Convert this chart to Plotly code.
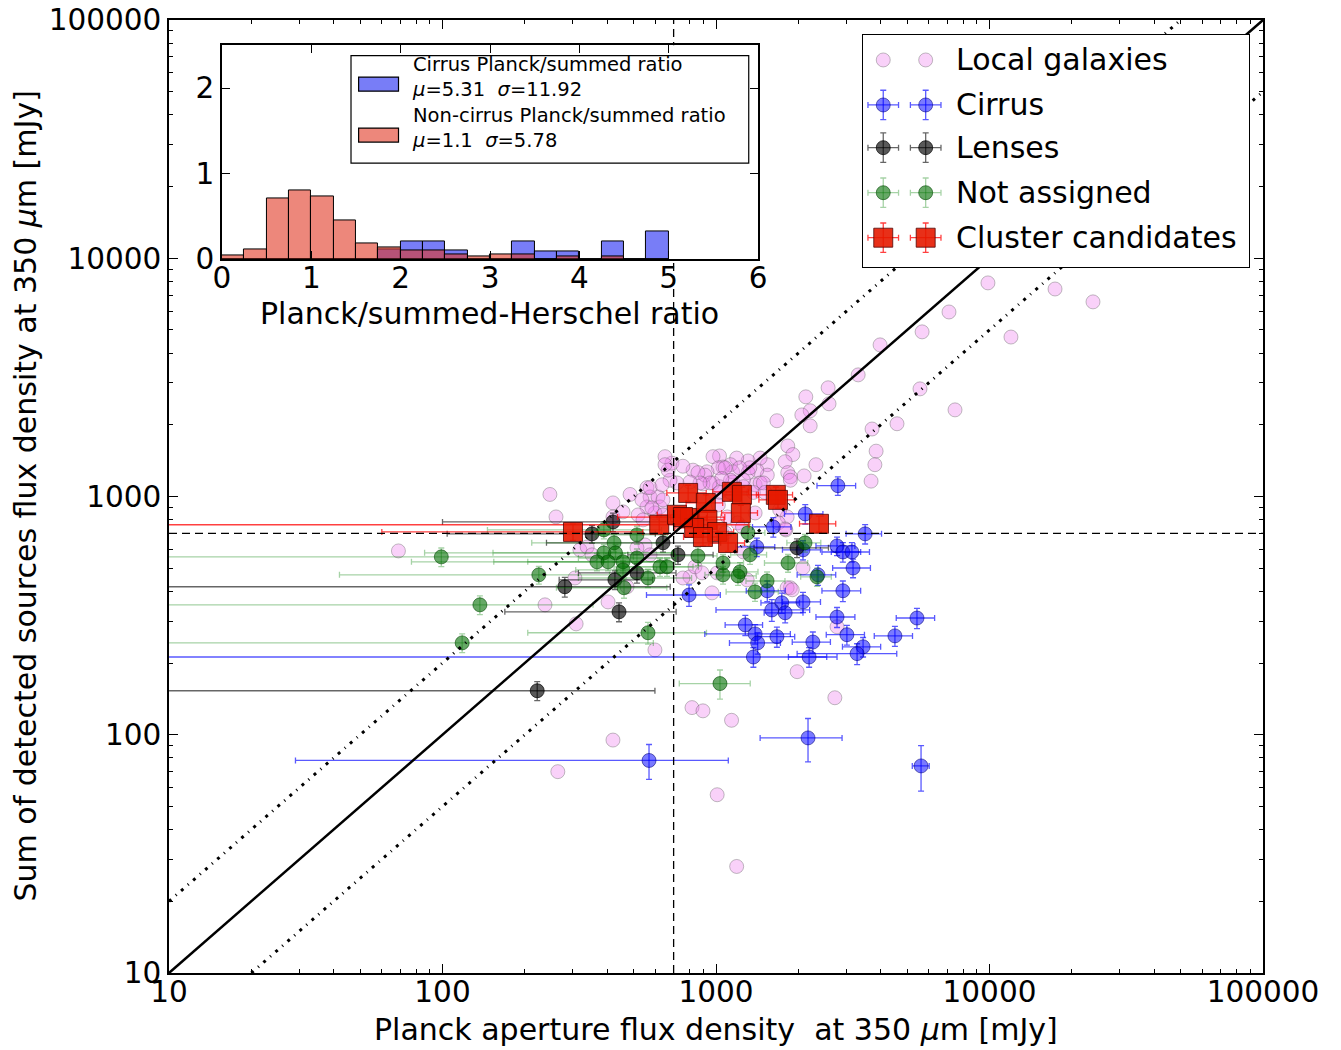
import plotly.graph_objects as go

# ---------------- data ----------------
local_x = [9870, 17360, 23900, 7110, 5670, 11980, 3980, 3310, 5570, 2570,
           2130, 2590, 2210, 2060, 2210, 7480, 4590, 3720, 3850, 3810,
           2320, 2100, 3690, 1670, 1830, 1910, 1790, 1830, 1870, 1540,
           1540, 1410, 1450, 1310, 1190, 1130, 1030, 975, 1060, 1020,
           927, 1150, 1310, 1390, 1450, 975, 896, 1030, 1150, 911,
           1330, 1220, 824, 859, 1080, 1870, 1490, 1260, 1130, 1050,
           951, 874, 803, 720, 679, 668, 690, 651, 559, 574,
           614, 624, 598, 559, 1030, 1130, 1370, 1510, 1260, 1020,
           1100, 1080, 1200, 1390, 1820, 1710, 1690, 1800, 1250, 2080,
           1260, 1010, 803, 757, 967, 1300, 1870, 2770, 1980, 2720,
           598, 420, 485, 536, 574, 635, 651, 640, 583, 519,
           420, 457, 541, 640, 318, 338, 352, 305, 838, 889,
           550, 574, 514, 247, 260, 69, 237, 403, 308, 473,
           420, 264, 1010, 1190, 817, 896, 1140, 1820, 1900, 1790, 757]
local_y = [7880, 7430, 6560, 5950, 4910, 4670, 4330, 3240, 2830, 2860,
           2620, 2450, 2290, 2200, 1980, 2310, 2020, 1920, 1550, 1360,
           1360, 1220, 1160, 2080, 1630, 1500, 1400, 1260, 1210, 1360,
           1230, 1290, 1450, 1410, 1450, 1360, 1480, 1470, 1330, 1320,
           1270, 1270, 1260, 1120, 1140, 1140, 1130, 1100, 1150, 1230,
           1320, 1320, 1290, 1260, 1320, 1170, 1140, 1170, 1170, 1190,
           1140, 1140, 1150, 1140, 1170, 1290, 1380, 1470, 1090, 996,
           996, 904, 853, 904, 1040, 1040, 1040, 1040, 1100, 922,
           821, 704, 775, 853, 821, 879, 775, 724, 745, 502,
           585, 478, 460, 455, 394, 447, 414, 284, 184, 143,
           227, 940, 1020, 968, 1090, 1120, 1360, 968, 896, 837,
           821, 862, 798, 837, 597, 614, 569, 455, 507, 478,
           626, 569, 609, 1020, 821, 591, 351, 361, 292, 418,
           95, 70, 56, 28, 130, 126, 115, 414, 406, 731, 1340]

cirrus_x = [2790, 2120, 1620, 3510, 1410, 2770, 2910, 3140, 3170, 2360,
            1540, 2910, 797, 2080, 1740, 1600, 1790, 2770, 5430, 1280,
            1390, 1670, 3010, 4510, 1420, 2260, 3450, 3280, 1370, 2190,
            2170, 5620, 569, 2080]
cirrus_y = [1110, 845, 745, 697, 614, 620, 585, 585, 501, 469,
            402, 402, 386, 361, 358, 334, 325, 312, 309, 289,
            265, 258, 263, 260, 243, 245, 234, 219, 212, 212,
            97, 74, 78, 597]
cirrus_xerr = [450, 340, 260, 520, 230, 450, 470, 500, 500, 380,
               250, 470, 240, 330, 280, 600, 290, 450, 870, 200,
               480, 270, 480, 720, 300, 360, 550, 1300, 1400, 350,
               720, 400, 540, 330]
cirrus_yerr = [100, 80, 70, 65, 55, 55, 55, 55, 45, 45,
               40, 40, 40, 35, 35, 35, 30, 30, 30, 28,
               25, 25, 25, 25, 25, 25, 22, 22, 20, 20,
               20, 16, 13, 55]

lens_x = [420, 352, 640, 427, 280, 442, 222, 514, 726, 1977]
lens_y = [782, 697, 639, 447, 418, 328, 153, 478, 569, 609]
lens_xerr = [320, 248, 400, 160, 400, 273, 376, 200, 250, 600]
lens_yerr = [70, 60, 55, 40, 40, 30, 14, 45, 50, 55]

na_x = [99, 137, 118, 225, 389, 424, 389, 429, 367, 403,
        457, 514, 514, 564, 461, 624, 662, 564, 457, 859,
        1061, 1224, 1331, 1309, 2116, 1061, 1834, 1537, 2340, 1389,
        1034, 1203]
na_y = [558, 351, 243, 469, 724, 639, 580, 580, 532, 532,
        532, 690, 552, 455, 414, 507, 507, 268, 492, 563,
        469, 483, 569, 704, 639, 526, 526, 442, 460, 398,
        164, 464]
na_xerr = [400, 218, 472, 183, 243, 212, 303, 276, 290, 249,
           252, 150, 200, 250, 200, 200, 200, 359, 150, 150,
           150, 200, 200, 200, 300, 200, 330, 250, 300, 300,
           300, 200]
na_yerr = [50, 32, 22, 40, 60, 55, 50, 50, 45, 45,
           45, 60, 50, 40, 40, 45, 45, 28, 45, 50,
           40, 45, 50, 60, 55, 45, 45, 40, 40, 35,
           23, 40]

cc_x = [300, 620, 791, 720, 803, 918, 930, 832, 1010, 1107,
        1143, 1244, 1233, 1655, 1685, 2380, 896, 757]
cc_y = [710, 761, 1035, 838, 813, 940, 798, 738, 710, 638,
        1046, 1016, 853, 1016, 968, 768, 676, 820]
cc_xerr = [240, 700, 130, 110, 120, 140, 140, 125, 150, 165,
           170, 185, 185, 250, 250, 360, 135, 320]
cc_yerr = [55, 60, 80, 65, 65, 75, 65, 60, 55, 50,
           80, 80, 65, 80, 75, 60, 55, 65]

flux_cut = 700                      # dashed selection lines [mJy]
ratio_lines = [1, 2, 0.5]           # y = k * x reference lines
axis_min, axis_max = 10, 100000
main_tickvals = [10, 100, 1000, 10000, 100000]
main_ticktext = ["10", "100", "1000", "10000", "100000"]

ratio_bin_centers = [0.125, 0.375, 0.625, 0.875, 1.125, 1.375, 1.625, 1.875,
                     2.125, 2.375, 2.625, 2.875, 3.125, 3.375, 3.625, 3.875,
                     4.125, 4.375, 4.625, 4.875]
cirrus_hist = [0, 0, 0, 0, 0, 0, 0, 0.11, 0.21, 0.21, 0.10, 0, 0, 0.21,
               0.09, 0.09, 0, 0.21, 0, 0.32]
noncirrus_hist = [0.04, 0.11, 0.71, 0.80, 0.73, 0.45, 0.18, 0.13, 0.10, 0.10,
                  0.05, 0.03, 0.05, 0.05, 0, 0.025, 0, 0.025, 0, 0]
inset_xticks = [0, 1, 2, 3, 4, 5, 6]
inset_yticks = [0, 1, 2]
inset_xrange = [0, 6]
inset_yrange = [0, 2.5]

# ---------------- styles ----------------
FONT = "DejaVu Sans"
FS_TICK = 29.5
FS_TITLE = 30
PINK = "rgba(238,130,238,0.37)"
PINK_EDGE = "rgba(90,90,90,0.38)"
BLUE = "rgba(0,0,255,0.52)"
BLUE_EDGE = "rgba(0,0,120,0.55)"
BLUE_ERR = "rgba(0,0,255,0.65)"
BLACK = "rgba(0,0,0,0.65)"
BLACK_EDGE = "rgba(0,0,0,0.7)"
BLACK_ERR = "rgba(0,0,0,0.6)"
GREEN = "rgba(0,110,0,0.6)"
GREEN_EDGE = "rgba(0,70,0,0.6)"
GREEN_ERR = "rgba(0,128,0,0.35)"
RED = "rgba(230,25,0,0.9)"
RED_EDGE = "rgba(70,0,0,0.75)"
RED_ERR = "rgba(255,0,0,0.75)"
HIST_BLUE = "rgba(0,10,240,0.53)"
HIST_RED = "rgba(225,55,35,0.6)"
DOTDASH = "3px,6px,1px,6px"

def errbar(values, color, kind="data"):
    d = dict(type=kind, symmetric=True, color=color, thickness=1.3, width=3, visible=True)
    if kind == "data":
        d["array"] = values
    else:
        d["value"] = values
    return d

groups = [
    ("Local galaxies", local_x, local_y, None, None, PINK, PINK_EDGE, None, "circle", 14),
    ("Cirrus", cirrus_x, cirrus_y, cirrus_xerr, cirrus_yerr, BLUE, BLUE_EDGE, BLUE_ERR, "circle", 14),
    ("Lenses", lens_x, lens_y, lens_xerr, lens_yerr, BLACK, BLACK_EDGE, BLACK_ERR, "circle", 14),
    ("Not assigned", na_x, na_y, na_xerr, na_yerr, GREEN, GREEN_EDGE, GREEN_ERR, "circle", 14),
    ("Cluster candidates", cc_x, cc_y, cc_xerr, cc_yerr, RED, RED_EDGE, RED_ERR, "square", 19),
]

fig = go.Figure()

# ---------------- main scatter ----------------
for name, xs, ys, xe, ye, col, edge, ecol, sym, size in groups:
    kw = {}
    if xe is not None:
        kw["error_x"] = errbar(xe, ecol)
        kw["error_y"] = errbar(ye, ecol)
    fig.add_trace(go.Scatter(
        x=xs, y=ys, mode="markers", name=name,
        marker=dict(size=size, color=col, symbol=sym, line=dict(color=edge, width=1)),
        hoverinfo="skip", showlegend=False, **kw))

# reference lines y = k x
for k in ratio_lines:
    x0 = max(axis_min, axis_min / k)
    x1 = min(axis_max, axis_max / k)
    fig.add_trace(go.Scatter(
        x=[x0, x1], y=[k * x0, k * x1], mode="lines",
        line=dict(color="black", width=2.5 if k == 1 else 3,
                  dash="solid" if k == 1 else DOTDASH),
        hoverinfo="skip", showlegend=False))

# dashed flux-cut lines
fig.add_trace(go.Scatter(x=[flux_cut, flux_cut], y=[axis_min, axis_max], mode="lines",
                         line=dict(color="black", width=1.3, dash="8px,5px"),
                         hoverinfo="skip", showlegend=False))
fig.add_trace(go.Scatter(x=[axis_min, axis_max], y=[flux_cut, flux_cut], mode="lines",
                         line=dict(color="black", width=1.3, dash="8px,5px"),
                         hoverinfo="skip", showlegend=False))

# ---------------- inset histogram ----------------
# opaque white background of the inset (a bar spanning the whole inset range)
fig.add_trace(go.Bar(x=[sum(inset_xrange) / 2], y=[inset_yrange[1]],
                     width=inset_xrange[1] - inset_xrange[0],
                     marker=dict(color="white", line=dict(width=0)),
                     xaxis="x2", yaxis="y2", hoverinfo="skip", showlegend=False))
fig.add_trace(go.Bar(x=ratio_bin_centers, y=cirrus_hist, width=0.25,
                     marker=dict(color=HIST_BLUE, line=dict(color="black", width=1)),
                     xaxis="x2", yaxis="y2", hoverinfo="skip", showlegend=False))
fig.add_trace(go.Bar(x=ratio_bin_centers, y=noncirrus_hist, width=0.25,
                     marker=dict(color=HIST_RED, line=dict(color="black", width=1)),
                     xaxis="x2", yaxis="y2", hoverinfo="skip", showlegend=False))

# ---------------- manual legend (own axes so it hides lines beneath) ----------------
fig.add_trace(go.Scatter(x=[0, 1, 1, 0, 0], y=[0, 0, 1, 1, 0], mode="lines",
                         fill="toself", fillcolor="white", line=dict(width=0, color="white"),
                         xaxis="x3", yaxis="y3", hoverinfo="skip", showlegend=False))
leg_marker_x = [0.0518, 0.1617]
leg_rows = [0.8924, 0.6987, 0.5149, 0.3211, 0.1274]
leg_text_x = 0.236
annotations = []
for (name, xs, ys, xe, ye, col, edge, ecol, sym, size), ry in zip(groups, leg_rows):
    kw = {}
    if xe is not None:
        kw["error_x"] = errbar(0.0396, ecol, "constant")
        kw["error_y"] = errbar(0.0633, ecol, "constant")
    fig.add_trace(go.Scatter(
        x=leg_marker_x, y=[ry, ry], mode="markers",
        marker=dict(size=size, color=col, symbol=sym, line=dict(color=edge, width=1)),
        xaxis="x3", yaxis="y3", hoverinfo="skip", showlegend=False, **kw))
    annotations.append(dict(x=leg_text_x, y=ry, xref="x3", yref="y3", text=name,
                            showarrow=False, xanchor="left", yanchor="middle",
                            font=dict(size=FS_TITLE, color="black")))

# inset legend
shapes = [
    dict(type="rect", xref="x2 domain", yref="y2 domain", x0=0.2407, x1=0.9825,
         y0=0.4492, y1=0.9527, line=dict(color="black", width=1.2), fillcolor="white", layer="above"),
    dict(type="rect", xref="x2 domain", yref="y2 domain", x0=0.2549, x1=0.3293,
         y0=0.7861, y1=0.8517, line=dict(color="black", width=1.2),
         fillcolor=HIST_BLUE, layer="above"),
    dict(type="rect", xref="x2 domain", yref="y2 domain", x0=0.2549, x1=0.3293,
         y0=0.5475, y1=0.6130, line=dict(color="black", width=1.2),
         fillcolor=HIST_RED, layer="above"),
]
inset_leg_entries = [
    ("Cirrus Planck/summed ratio<br><i>μ</i>=5.31 \u00a0<i>σ</i>=11.92", 0.8507),
    ("Non-cirrus Planck/summed ratio<br><i>μ</i>=1.1 \u00a0<i>σ</i>=5.78", 0.6144),
]
for txt, yy in inset_leg_entries:
    annotations.append(dict(x=0.352, y=yy, xref="x2 domain", yref="y2 domain", text=txt,
                            showarrow=False, xanchor="left", yanchor="middle", align="left",
                            borderpad=0, font=dict(size=19.5, color="black")))

# axis titles
annotations += [
    dict(x=0.5, y=-0.0598, xref="paper", yref="paper",
         text="Planck aperture flux density \u00a0at 350 <i>μ</i>m [mJy]",
         showarrow=False, xanchor="center", yanchor="middle", font=dict(size=FS_TITLE, color="black")),
    dict(x=-0.1316, y=0.5, xref="paper", yref="paper", textangle=-90,
         text="Sum of detected sources flux density at 350 <i>μ</i>m [mJy]",
         showarrow=False, xanchor="center", yanchor="middle", font=dict(size=FS_TITLE, color="black")),
    dict(x=0.2934, y=0.6925, xref="paper", yref="paper",
         text="Planck/summed-Herschel ratio",
         showarrow=False, xanchor="center", yanchor="middle", font=dict(size=FS_TITLE, color="black")),
]

def log_axis(standoff):
    return dict(type="log", range=[1, 5], tickmode="array", tickvals=main_tickvals,
                ticktext=main_ticktext, ticklabelstandoff=standoff, ticklabeloverflow="allow",
                ticks="inside", ticklen=9, tickwidth=1.2, tickcolor="black",
                minor=dict(ticks="inside", ticklen=4.5, tickwidth=1, tickcolor="black",
                           dtick="D1", showgrid=False),
                showline=True, linecolor="black", linewidth=1.5, mirror="allticks",
                showgrid=False, zeroline=False, tickfont=dict(size=FS_TICK, color="black"))

def lin_axis(rng, vals, standoff):
    return dict(range=rng, tickmode="array", tickvals=vals, ticklabelstandoff=standoff,
                ticks="inside", ticklen=8, tickwidth=1.2, tickcolor="black",
                showline=True, linecolor="black", linewidth=1.5, mirror="allticks",
                showgrid=False, zeroline=False, tickfont=dict(size=FS_TICK, color="black"))

fig.update_layout(
    width=1341, height=1050,
    margin=dict(l=169, r=78, t=20, b=77, autoexpand=False),
    paper_bgcolor="white", plot_bgcolor="white",
    font=dict(family=FONT, color="black"),
    showlegend=False, barmode="overlay", bargap=0,
    xaxis=dict(domain=[0, 1], anchor="y", **log_axis(-8)),
    yaxis=dict(domain=[0, 1], anchor="x", **log_axis(0)),
    xaxis2=dict(domain=[0.0484, 0.5385], anchor="y2", **lin_axis(inset_xrange, inset_xticks, -8)),
    yaxis2=dict(domain=[0.7492, 0.9733], anchor="x2", **lin_axis(inset_yrange, inset_yticks, 0)),
    xaxis3=dict(domain=[0.6346, 0.9875], anchor="y3", range=[0, 1], showticklabels=False,
                ticks="", showline=True, linecolor="black", linewidth=1.2, mirror=True,
                showgrid=False, zeroline=False, fixedrange=True),
    yaxis3=dict(domain=[0.7405, 0.9843], anchor="x3", range=[0, 1], showticklabels=False,
                ticks="", showline=True, linecolor="black", linewidth=1.2, mirror=True,
                showgrid=False, zeroline=False, fixedrange=True),
    shapes=shapes,
    annotations=annotations,
)

# remove the default 8px page margin so the figure sits at the window's top-left corner
fig.write_html("out.html",
               config={"displayModeBar": False},
               post_script="document.body.style.margin='0px';document.body.style.overflow='hidden';")
